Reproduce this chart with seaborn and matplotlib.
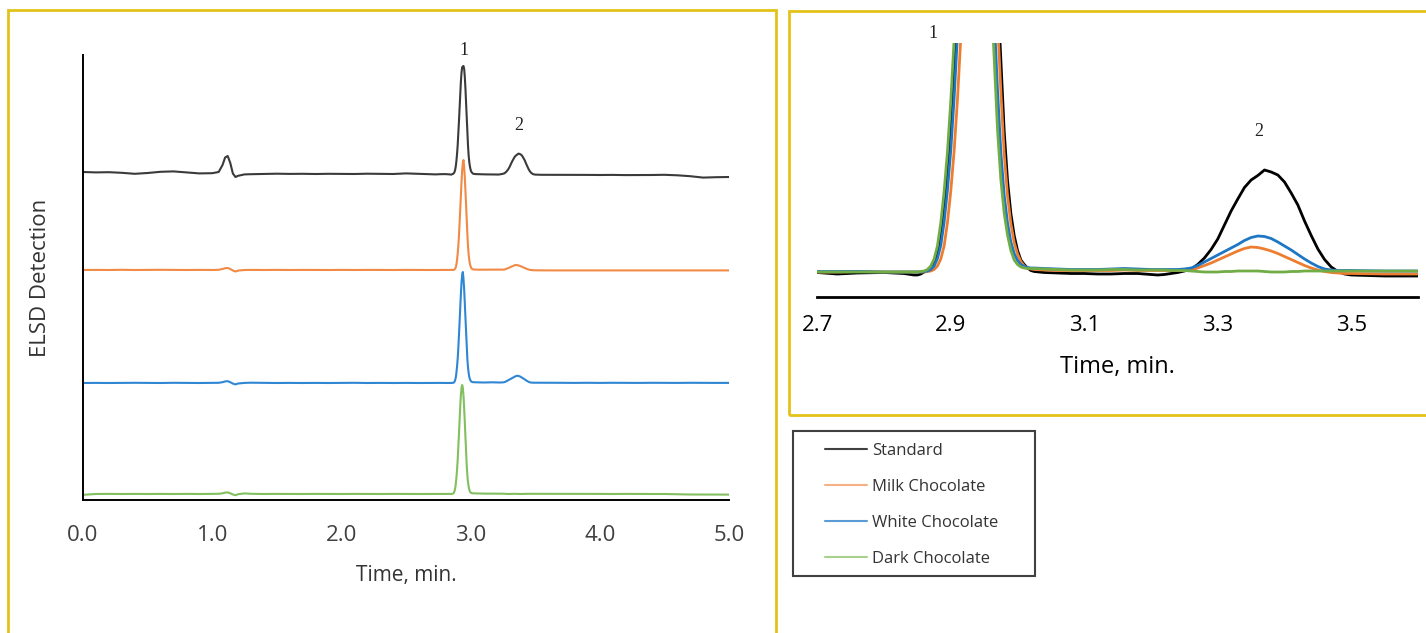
import pandas as pd
import seaborn as sns
import matplotlib.pyplot as plt
from matplotlib.lines import Line2D
from matplotlib.patches import Rectangle
from matplotlib.ticker import FormatStrFormatter

# retention time grid (min), denser around the two peaks
time_min = [
    0.0, 0.1, 0.2, 0.3, 0.4, 0.5, 0.6, 0.7, 0.8, 0.9, 1.0,
    1.05, 1.08, 1.10, 1.12, 1.14, 1.16, 1.18, 1.20, 1.25,
    1.3, 1.4, 1.5, 1.6, 1.7, 1.8, 1.9, 2.0, 2.1, 2.2, 2.3, 2.4, 2.5, 2.6, 2.7,
    2.73, 2.76, 2.80, 2.83, 2.845,
    2.850, 2.855, 2.860, 2.865, 2.870, 2.875, 2.880, 2.885, 2.890, 2.895,
    2.900, 2.905, 2.910, 2.915, 2.920, 2.925, 2.930, 2.935, 2.940, 2.945,
    2.950, 2.955, 2.960, 2.965, 2.970, 2.975, 2.980, 2.985, 2.990, 2.995,
    3.000, 3.005, 3.010, 3.015, 3.020, 3.025,
    3.04, 3.06, 3.08, 3.10, 3.12, 3.14, 3.16, 3.18, 3.20,
    3.21, 3.22, 3.23, 3.24, 3.25, 3.26, 3.27, 3.28, 3.29, 3.30,
    3.31, 3.32, 3.33, 3.34, 3.35, 3.36, 3.37, 3.38, 3.39, 3.40,
    3.41, 3.42, 3.43, 3.44, 3.45, 3.46, 3.47, 3.48, 3.49, 3.50,
    3.55, 3.6, 3.7, 3.8, 3.9, 4.0, 4.1, 4.2, 4.3, 4.4, 4.5, 4.6, 4.7, 4.8, 4.9, 5.0,
]

# ELSD signal, arbitrary units, baseline = 0
standard = [
    2.0, 1.6, 1.8, 1.2, 0.2, 1.0, 2.2, 2.6, 1.6, 0.6, 0.8,
    2.0, 9.0, 16.5, 18.0, 11.0, 0.5, -3.0, -1.8, -0.4,
    -0.2, 0.0, 0.3, 0.1, 0.2, 0.0, 0.2, 0.1, 0.0, 0.3, 0.1, 0.0, 0.6, 0.2, -0.1,
    -0.4, -0.2, -0.1, -0.3, -0.6,
    -0.6, -0.4, 0.0, 0.2, 0.8, 1.9, 3.9, 7.4, 12.8, 19.9,
    28.8, 40.0, 53.0, 66.9, 80.7, 92.8, 101.9, 106.8, 107.6, 108.0,
    105.2, 97.4, 85.6, 71.4, 56.6, 42.6, 28.2, 18.3, 11.7, 7.3,
    4.3, 2.4, 1.5, 0.8, 0.3, 0.1,
    -0.1, -0.2, -0.3, -0.3, -0.4, -0.4, -0.3, -0.3, -0.5,
    -0.6, -0.5, -0.3, -0.1, 0.2, 0.6, 1.5, 2.8, 4.5, 6.6,
    9.4, 12.2, 14.6, 16.9, 18.4, 19.3, 20.4, 20.0, 19.4, 18.0,
    15.8, 13.4, 10.2, 7.3, 4.6, 2.5, 1.0, 0.1, -0.4, -0.6,
    -0.8, -0.8, -0.8, -0.9, -0.9, -1.0, -0.9, -1.1, -1.1, -1.0, -0.8, -1.3, -2.2, -3.6, -3.2, -3.0,
]
milk = [
    0.0, 0.1, 0.0, 0.2, 0.0, 0.1, 0.2, 0.1, 0.0, 0.1, 0.0,
    0.2, 1.0, 1.8, 2.0, 1.0, -0.5, -1.5, -0.6, 0.0,
    0.1, 0.0, 0.1, 0.0, 0.1, 0.0, 0.0, 0.1, 0.0, 0.1, 0.0, 0.0, 0.1, 0.0, 0.0,
    0.0, 0.1, 0.0, 0.0, 0.0,
    0.0, 0.0, 0.0, 0.1, 0.2, 0.5, 1.2, 2.6, 5.2, 9.9,
    16.2, 24.2, 34.5, 46.9, 61.0, 75.4, 88.9, 100.1, 107.5, 110.0,
    103.2, 93.2, 80.0, 65.2, 50.5, 36.1, 23.7, 15.3, 9.7, 5.9,
    3.6, 2.1, 1.2, 0.8, 0.6, 0.5,
    0.4, 0.3, 0.3, 0.3, 0.3, 0.3, 0.4, 0.3, 0.3,
    0.3, 0.3, 0.3, 0.3, 0.3, 0.4, 0.8, 1.3, 1.8, 2.4,
    3.0, 3.6, 4.2, 4.7, 5.0, 4.9, 4.6, 4.2, 3.7, 3.1,
    2.5, 1.9, 1.3, 0.8, 0.4, 0.1, -0.1, -0.2, -0.3, -0.3,
    -0.4, -0.4, -0.4, -0.3, -0.4, -0.4, -0.3, -0.4, -0.4, -0.3, -0.4, -0.4, -0.3, -0.4, -0.4, -0.4,
]
white = [
    0.0, 0.1, 0.0, 0.1, 0.2, 0.1, 0.0, 0.2, 0.1, 0.0, 0.1,
    0.2, 0.8, 1.6, 1.8, 0.8, -0.6, -1.4, -0.5, 0.1,
    0.3, 0.1, 0.0, 0.1, 0.0, 0.1, 0.0, 0.1, 0.2, 0.0, 0.1, 0.0, 0.1, 0.0, 0.1,
    0.1, 0.1, 0.0, 0.0, 0.0,
    0.0, 0.0, 0.1, 0.2, 0.5, 1.2, 2.7, 5.3, 10.0, 16.4,
    24.4, 34.8, 47.4, 61.5, 76.1, 89.7, 101.0, 108.5, 111.0, 104.1,
    94.0, 80.7, 65.8, 51.0, 36.4, 23.9, 15.4, 9.8, 6.0, 3.7,
    2.3, 1.5, 1.1, 0.9, 0.8, 0.8,
    0.7, 0.6, 0.5, 0.5, 0.5, 0.6, 0.7, 0.6, 0.5,
    0.5, 0.5, 0.5, 0.5, 0.6, 0.8, 1.3, 2.0, 2.7, 3.4,
    4.1, 4.8, 5.5, 6.3, 6.9, 7.2, 7.1, 6.7, 6.0, 5.2,
    4.4, 3.5, 2.6, 1.8, 1.1, 0.6, 0.4, 0.3, 0.3, 0.3,
    0.2, 0.2, 0.2, 0.1, 0.2, 0.1, 0.2, 0.1, 0.1, 0.2, 0.1, 0.1, 0.2, 0.1, 0.1, 0.1,
]
dark = [
    -0.8, 0.0, 0.1, 0.0, 0.1, 0.0, 0.1, 0.0, 0.1, 0.0, 0.1,
    0.2, 0.7, 1.4, 1.6, 0.7, -0.5, -1.2, -0.2, 0.6,
    0.2, 0.0, 0.1, 0.0, 0.0, 0.1, 0.0, 0.0, 0.1, 0.0, 0.0, 0.1, 0.0, 0.0, 0.0,
    0.0, 0.0, 0.0, 0.0, 0.0,
    0.0, 0.1, 0.2, 0.5, 1.2, 2.6, 5.2, 9.8, 16.1, 24.0,
    34.2, 46.5, 60.4, 74.7, 88.1, 99.2, 106.5, 109.0, 106.2, 98.3,
    86.4, 72.1, 57.1, 43.0, 28.5, 18.5, 11.8, 7.4, 4.3, 2.4,
    1.5, 1.0, 0.8, 0.7, 0.7, 0.7,
    0.6, 0.5, 0.4, 0.4, 0.4, 0.5, 0.5, 0.4, 0.4,
    0.4, 0.4, 0.3, 0.3, 0.3, 0.2, 0.1, 0.0, 0.0, 0.0,
    0.1, 0.1, 0.2, 0.2, 0.2, 0.2, 0.1, 0.0, 0.0, 0.0,
    0.1, 0.1, 0.2, 0.2, 0.2, 0.2, 0.2, 0.2, 0.2, 0.2,
    0.2, 0.2, 0.1, 0.1, 0.1, 0.1, 0.0, 0.1, 0.0, 0.0, 0.0, -0.3, -0.5, -0.5, -0.6, -0.6,
]

samples = ["Standard", "Milk Chocolate", "White Chocolate", "Dark Chocolate"]
signals = [standard, milk, white, dark]
main_ticks = [0, 1, 2, 3, 4, 5]
zoom_ticks = [2.7, 2.9, 3.1, 3.3, 3.5]

# vertical stacking of the traces in the full chromatogram
stack_offset = {"Standard": 326, "Milk Chocolate": 230, "White Chocolate": 117, "Dark Chocolate": 6}

main_colors = {"Standard": "#3a3a3a", "Milk Chocolate": "#f08a44", "White Chocolate": "#2f86d3", "Dark Chocolate": "#82bf5f"}
zoom_colors = {"Standard": "#000000", "Milk Chocolate": "#ed7d31", "White Chocolate": "#1f77c4", "Dark Chocolate": "#70ad47"}
legend_colors = ["#404040", "#f4b183", "#5b9bd5", "#a9d18e"]
border = "#e3c21a"

df = pd.concat(
    [pd.DataFrame({"Time": time_min, "Signal": s, "Sample": n}) for n, s in zip(samples, signals)],
    ignore_index=True,
)
df["Stacked"] = df["Signal"] + df["Sample"].map(stack_offset)

sns.set_style("white")
plt.rcParams["font.family"] = ["Open Sans", "DejaVu Sans"]

W, H = 1426, 633
fig = plt.figure(figsize=(W / 100, H / 100), dpi=100)

# full chromatogram
ax = fig.add_axes([83 / W, 1 - 500 / H, 646 / W, 445 / H])
sns.lineplot(data=df, x="Time", y="Stacked", hue="Sample", hue_order=samples,
             palette=main_colors, estimator=None, sort=False, lw=1.5, legend=False, ax=ax)
ax.set_xlim(0, 5)
ax.set_ylim(0, 445)
ax.set_xticks(main_ticks)
ax.xaxis.set_major_formatter(FormatStrFormatter("%.1f"))
ax.set_yticks([])
for side in ["top", "right"]:
    ax.spines[side].set_visible(False)
for side in ["left", "bottom"]:
    ax.spines[side].set_color("black")
    ax.spines[side].set_linewidth(1.4)
ax.tick_params(axis="x", direction="out", length=7, width=1.4, color="black",
               pad=11, labelsize=16, labelcolor="#404040")
ax.set_xlabel("Time, min.", fontsize=15, color="#333333")
ax.set_ylabel("ELSD Detection", fontsize=16, color="#333333")
ax.xaxis.set_label_coords(0.5, -0.145)
ax.yaxis.set_label_coords(-0.05, 0.5)

std = df[df["Sample"] == "Standard"]
p1 = std.loc[std["Time"].between(2.8, 3.1), "Stacked"].idxmax()
p2 = std.loc[std["Time"].between(3.2, 3.6), "Stacked"].idxmax()
for idx, lab, dy in [(p1, "1", 11), (p2, "2", 20)]:
    ax.annotate(lab, xy=(std.loc[idx, "Time"], std.loc[idx, "Stacked"]), xytext=(0, dy),
                textcoords="offset points", ha="center", va="center",
                fontsize=13, family="Liberation Serif", color="#222222", annotation_clip=False)

# zoom on peak 2
axz = fig.add_axes([817.3 / W, 1 - 297 / H, 600.7 / W, 254 / H])
sns.lineplot(data=df, x="Time", y="Signal", hue="Sample", hue_order=samples,
             palette=zoom_colors, estimator=None, sort=False, lw=2.0, legend=False, ax=axz)
axz.set_xlim(2.7, 3.6)
axz.set_ylim(-5, 45.8)
axz.set_xticks(zoom_ticks)
axz.xaxis.set_major_formatter(FormatStrFormatter("%.1f"))
axz.set_yticks([])
for side in ["top", "right", "left"]:
    axz.spines[side].set_visible(False)
axz.spines["bottom"].set_color("black")
axz.spines["bottom"].set_linewidth(2)
axz.tick_params(axis="x", direction="out", length=6, width=1.6, color="black",
                pad=7, labelsize=16, labelcolor="black")
axz.set_xlabel("Time, min.", fontsize=17, color="black")
axz.xaxis.set_label_coords(0.5, -0.23)
axz.set_ylabel("")
axz.text(2.873, 47.8, "1", ha="center", va="center", fontsize=13,
         family="Liberation Serif", color="#222222", clip_on=False)
axz.text(3.362, 28.2, "2", ha="center", va="center", fontsize=13,
         family="Liberation Serif", color="#222222")

# panel frames
fig.add_artist(Rectangle((8 / W, 1 - 645 / H), 768 / W, 635 / H, transform=fig.transFigure,
                         fill=False, ec=border, lw=2))
fig.add_artist(Rectangle((789 / W, 1 - 415 / H), 650 / W, 404 / H, transform=fig.transFigure,
                         fill=False, ec=border, lw=2))
fig.add_artist(Rectangle((793 / W, 1 - 576 / H), 242 / W, 145 / H, transform=fig.transFigure,
                         fill=False, ec="#404040", lw=1.5))

handles = [Line2D([], [], color=c, lw=1.5) for c in legend_colors]
leg = fig.legend(handles, samples, loc="upper left", bbox_to_anchor=(825 / W, 1 - 443 / H),
                 frameon=False, fontsize=12, handlelength=2.5, handletextpad=0.3,
                 labelspacing=1.2, borderpad=0, borderaxespad=0)
for t in leg.get_texts():
    t.set_color("#333333")

fig.savefig("out.png", dpi=100)
